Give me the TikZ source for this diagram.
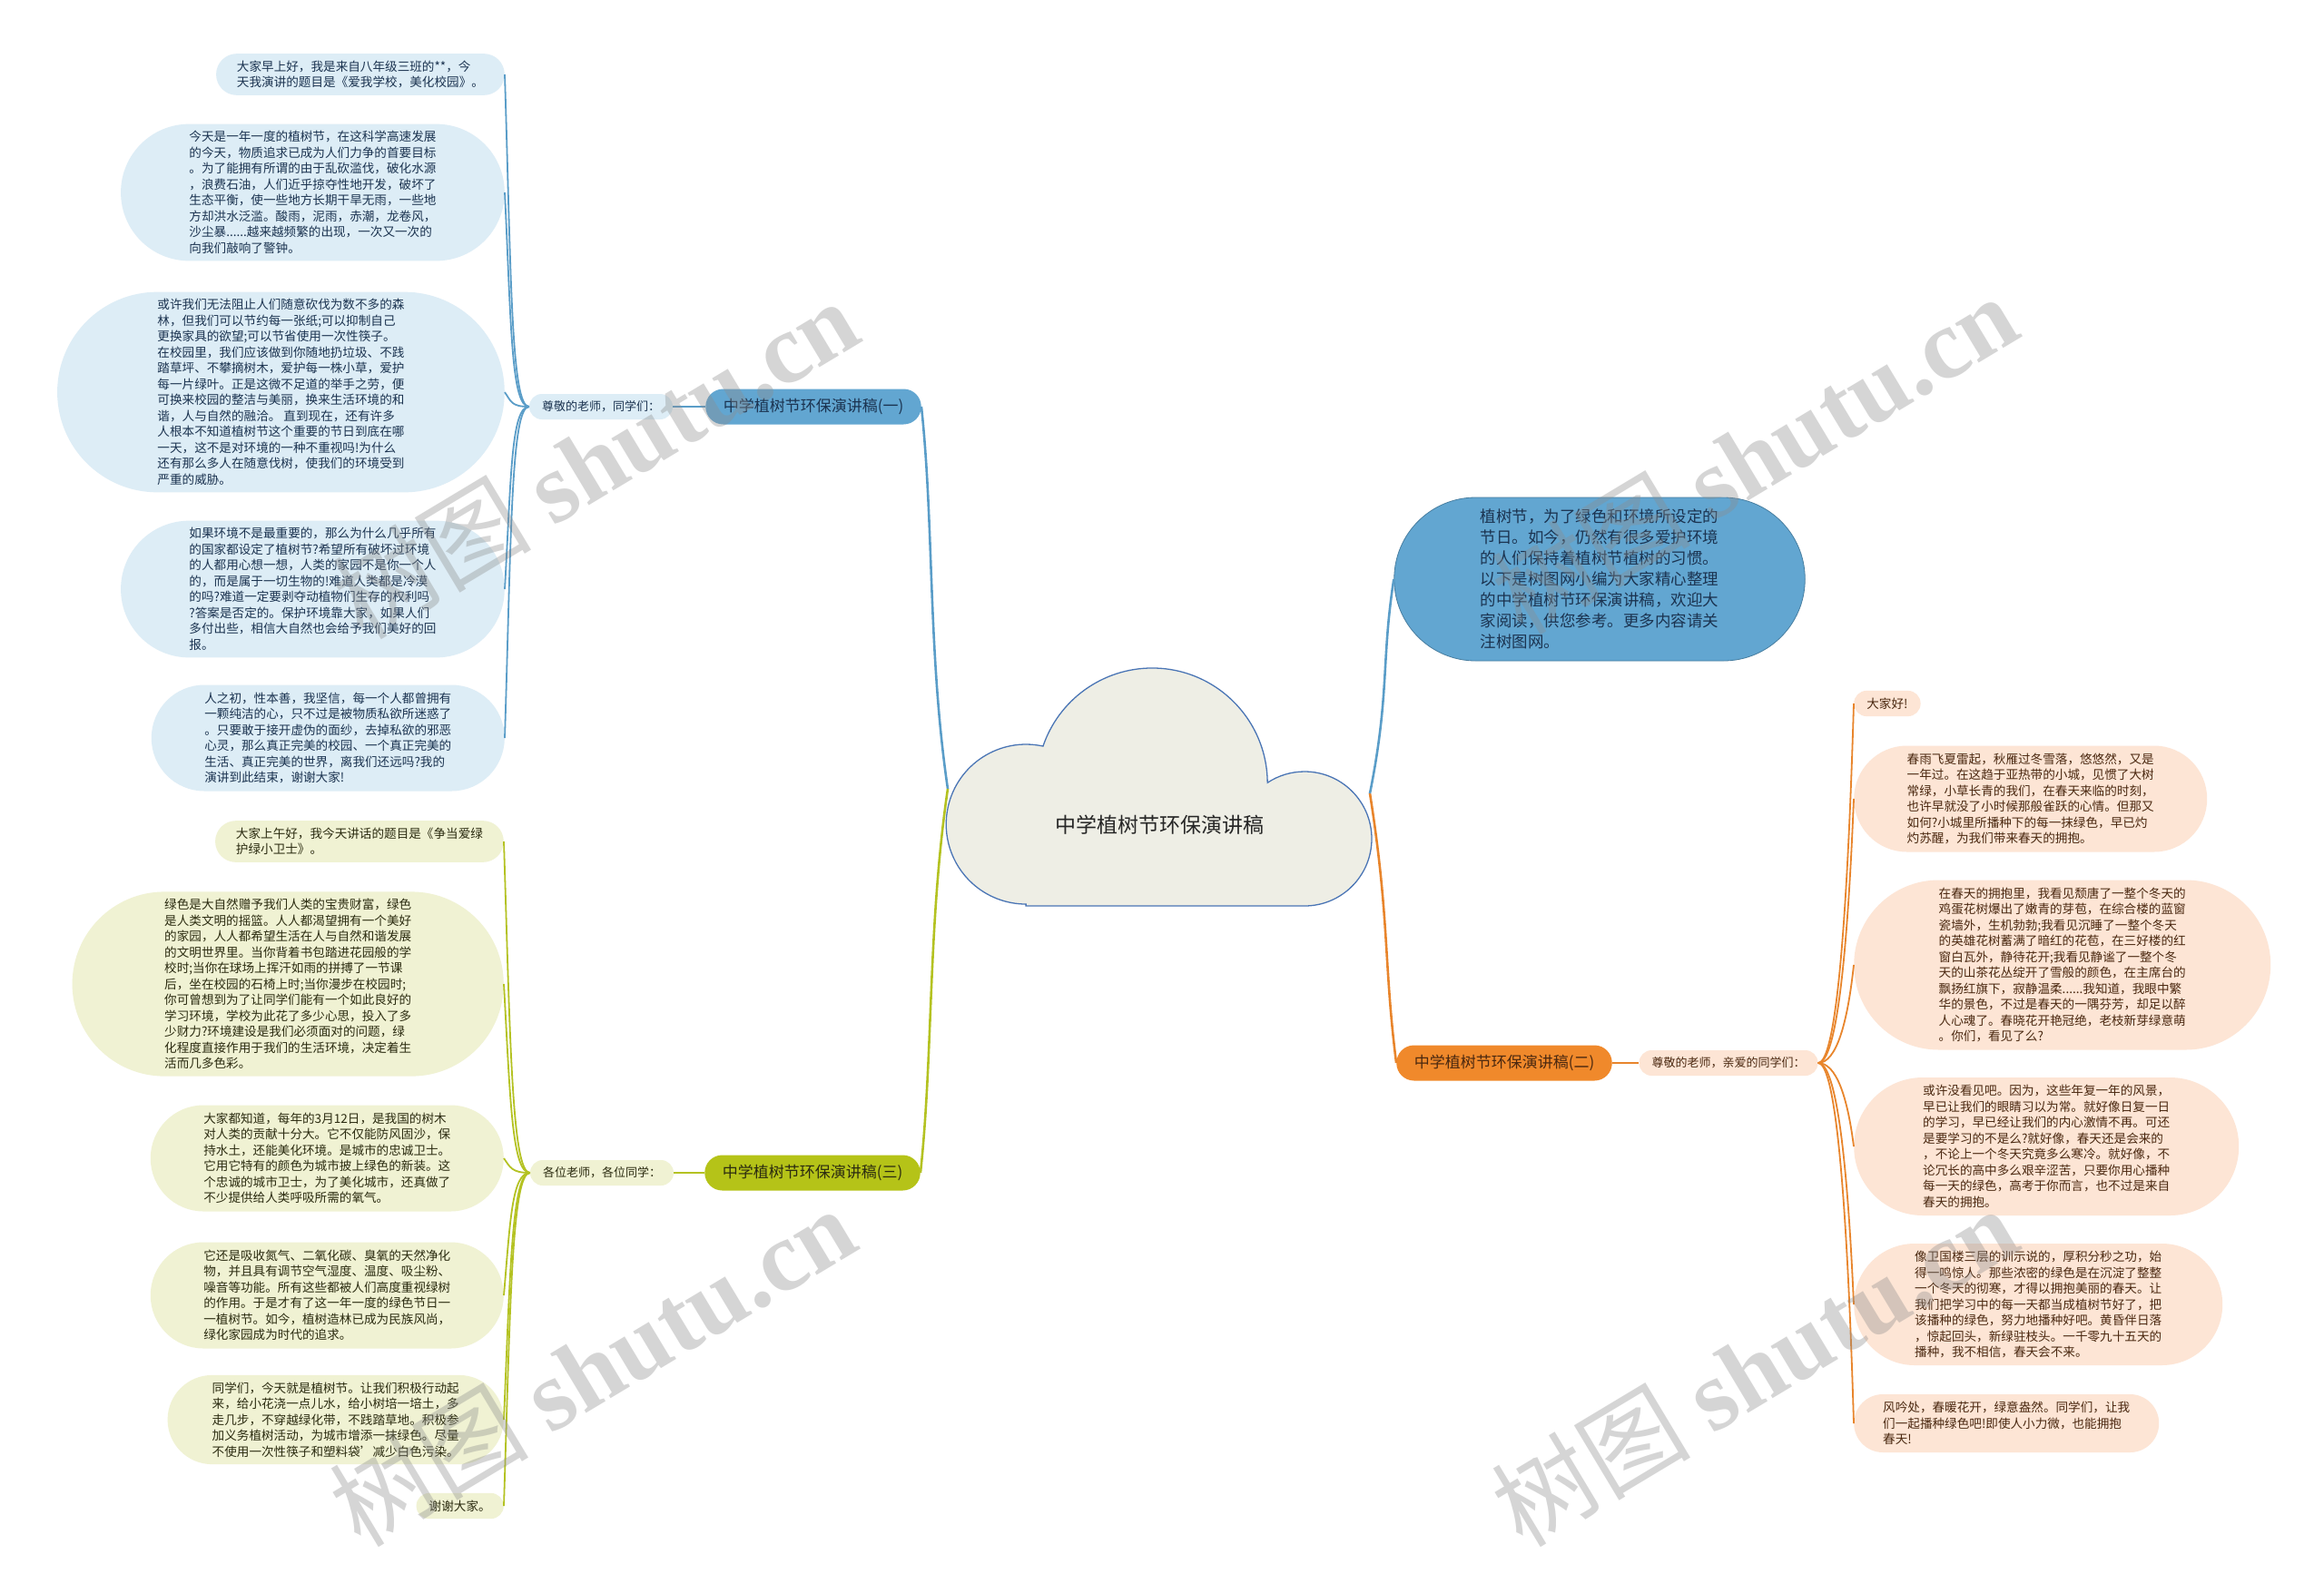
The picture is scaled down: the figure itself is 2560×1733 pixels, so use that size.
\documentclass[tikz,border=0pt]{standalone}
\usepackage{fontspec}
\setmainfont{Noto Sans CJK SC}
\newfontfamily\wmfont{Liberation Serif}
\newfontfamily\wmcjk{Noto Sans CJK SC}
\definecolor{bluelt}{HTML}{DDEDF6}
\definecolor{blueln}{HTML}{5A9DC8}
\definecolor{bluebr}{HTML}{62A6D1}
\definecolor{bluetx}{HTML}{1B3350}
\definecolor{greenlt}{HTML}{F0F2D3}
\definecolor{greenln}{HTML}{B4C222}
\definecolor{greenbr}{HTML}{B5C318}
\definecolor{greentx}{HTML}{2B2B10}
\definecolor{orangelt}{HTML}{FDE5D5}
\definecolor{orangeln}{HTML}{E8852C}
\definecolor{orangebr}{HTML}{F0892B}
\definecolor{orangetx}{HTML}{4A2810}
\definecolor{cloudfill}{HTML}{EEEEE5}
\definecolor{cloudln}{HTML}{4A75B5}
\begin{document}
\begin{tikzpicture}[x=1pt,y=-1pt,
  stad/.style={rectangle, minimum height=#1, inner ysep=0pt,
    inner xsep=#1*0.5, rounded corners=#1*0.5-0.1},
  bub/.style={stad=#1, align=left, font=\fontsize{13.6}{17.5}\selectfont},
  bbub/.style={bub=#1, fill=bluelt, text=bluetx},
  gbub/.style={bub=#1, fill=greenlt, text=greentx},
  obub/.style={bub=#1, fill=orangelt, text=orangetx},
  lab/.style={stad=28, font=\fontsize{13}{15}\selectfont},
  branch/.style={stad=39, font=\fontsize{17}{20}\selectfont},
  bsub/.style={draw=blueln, line width=1.8pt},
  gsub/.style={draw=greenln, line width=1.8pt},
  osub/.style={draw=orangeln, line width=1.8pt},
  wm/.style={text=black!45, opacity=0.36, rotate=31, inner sep=0pt}
]
\useasboundingbox (0,0) rectangle (2560,1733);
\fill[white] (0,0) rectangle (2560,1733);

% ---------- central cloud ----------
\draw[fill=cloudfill, draw=cloudln, line width=1.3pt]
  (1130,998) -- (1437,998)
  arc[start angle=90, end angle=-123.5, radius=74]
  arc[start angle=-0.3, end angle=-161.2, radius=127]
  arc[start angle=-77.7, end angle=-270, radius=88] -- cycle;
\node[font=\fontsize{23}{27}\selectfont, text=black!85] (root) at (1277,909) {中学植树节环保演讲稿};
\coordinate (rootL) at (1044,869);
\coordinate (rootR) at (1509,874);

% ---------- intro ----------
\node[stad=180, inner xsep=95, fill=bluebr, draw=blueln!80!black, line width=0.8pt,
  align=left, text=bluetx,
  font=\fontsize{17.5}{23}\selectfont] (intro) at (1762,638)
  {植树节，为了绿色和环境所设定的\\节日。如今，仍然有很多爱护环境\\的人们保持着植树节植树的习惯。\\以下是树图网小编为大家精心整理\\的中学植树节环保演讲稿，欢迎大\\家阅读，供您参考。更多内容请关\\注树图网。};

% ---------- branch nodes ----------
\node[branch, fill=bluebr, text=bluetx] (B1) at (896,448) {中学植树节环保演讲稿(一)};
\node[branch, fill=greenbr, text=greentx] (B3) at (895,1292) {中学植树节环保演讲稿(三)};
\node[branch, fill=orangebr, text=orangetx] (B2) at (1657,1171) {中学植树节环保演讲稿(二)};

\node[lab, fill=bluelt, text=bluetx] (L1) at (662,448) {尊敬的老师，同学们：};
\node[lab, fill=greenlt, text=greentx] (L3) at (663,1292) {各位老师，各位同学：};
\node[lab, fill=orangelt, text=orangetx] (L2) at (1904,1171) {尊敬的老师，亲爱的同学们：};

% ---------- main connectors ----------
\draw[draw=blueln, line width=2.6pt] (rootL) .. controls +(-22,-150) and +(14,130) .. (B1.east);
\draw[draw=greenln, line width=2.6pt] (rootL) .. controls +(-22,150) and +(14,-130) .. (B3.east);
\draw[draw=orangeln, line width=2.6pt] (rootR) .. controls +(22,140) and +(-14,-110) .. (B2.west);
\draw[draw=blueln, line width=2.6pt] (rootR) .. controls +(22,-110) and +(-14,90) .. (intro.west);

\draw[bsub] (B1.west) -- (L1.east);
\draw[gsub] (B3.west) -- (L3.east);
\draw[osub] (B2.east) -- (L2.west);

% ---------- blue bubbles ----------
\node[bbub=45.7, anchor=east] (b1) at (556,82)
 {大家早上好，我是来自八年级三班的**，今\\天我演讲的题目是《爱我学校，美化校园》。};
\node[bbub=150.7, anchor=east] (b2) at (556,212)
 {今天是一年一度的植树节，在这科学高速发展\\的今天，物质追求已成为人们力争的首要目标\\。为了能拥有所谓的由于乱砍滥伐，破化水源\\，浪费石油，人们近乎掠夺性地开发，破坏了\\生态平衡，使一些地方长期干旱无雨，一些地\\方却洪水泛滥。酸雨，泥雨，赤潮，龙卷风，\\沙尘暴......越来越频繁的出现，一次又一次的\\向我们敲响了警钟。};
\node[bbub=220.7, anchor=east] (b3) at (556,432)
 {或许我们无法阻止人们随意砍伐为数不多的森\\林，但我们可以节约每一张纸;可以抑制自己\\更换家具的欲望;可以节省使用一次性筷子。\\在校园里，我们应该做到你随地扔垃圾、不践\\踏草坪、不攀摘树木，爱护每一株小草，爱护\\每一片绿叶。正是这微不足道的举手之劳，便\\可换来校园的整洁与美丽，换来生活环境的和\\谐，人与自然的融洽。 直到现在，还有许多\\人根本不知道植树节这个重要的节日到底在哪\\一天，这不是对环境的一种不重视吗!为什么\\还有那么多人在随意伐树，使我们的环境受到\\严重的威胁。};
\node[bbub=150.7, anchor=east] (b4) at (556,649)
 {如果环境不是最重要的，那么为什么几乎所有\\的国家都设定了植树节?希望所有破坏过环境\\的人都用心想一想，人类的家园不是你一个人\\的，而是属于一切生物的!难道人类都是冷漠\\的吗?难道一定要剥夺动植物们生存的权利吗\\?答案是否定的。保护环境靠大家，如果人们\\多付出些，相信大自然也会给予我们美好的回\\报。};
\node[bbub=117, anchor=east] (b5) at (556,813)
 {人之初，性本善，我坚信，每一个人都曾拥有\\一颗纯洁的心，只不过是被物质私欲所迷惑了\\。只要敢于接开虚伪的面纱，去掉私欲的邪恶\\心灵，那么真正完美的校园、一个真正完美的\\生活、真正完美的世界，离我们还远吗?我的\\演讲到此结束，谢谢大家!};

% ---------- green bubbles ----------
\node[gbub=45.7, anchor=east] (g1) at (555,927)
 {大家上午好，我今天讲话的题目是《争当爱绿\\护绿小卫士》。};
\node[gbub=203.2, anchor=east] (g2) at (555,1084)
 {绿色是大自然赠予我们人类的宝贵财富，绿色\\是人类文明的摇篮。人人都渴望拥有一个美好\\的家园，人人都希望生活在人与自然和谐发展\\的文明世界里。当你背着书包踏进花园般的学\\校时;当你在球场上挥汗如雨的拼搏了一节课\\后，坐在校园的石椅上时;当你漫步在校园时;\\你可曾想到为了让同学们能有一个如此良好的\\学习环境，学校为此花了多少心思，投入了多\\少财力?环境建设是我们必须面对的问题，绿\\化程度直接作用于我们的生活环境，决定着生\\活而几多色彩。};
\node[gbub=117, anchor=east] (g3) at (555,1276)
 {大家都知道，每年的3月12日，是我国的树木\\对人类的贡献十分大。它不仅能防风固沙，保\\持水土，还能美化环境。是城市的忠诚卫士。\\它用它特有的颜色为城市披上绿色的新装。这\\个忠诚的城市卫士，为了美化城市，还真做了\\不少提供给人类呼吸所需的氧气。};
\node[gbub=117, anchor=east] (g4) at (555,1427)
 {它还是吸收氮气、二氧化碳、臭氧的天然净化\\物，并且具有调节空气湿度、温度、吸尘粉、\\噪音等功能。所有这些都被人们高度重视绿树\\的作用。于是才有了这一年一度的绿色节日一\\一植树节。如今，植树造林已成为民族风尚，\\绿化家园成为时代的追求。};
\node[gbub=98.2, anchor=east] (g5) at (555,1564)
 {同学们，今天就是植树节。让我们积极行动起\\来，给小花浇一点儿水，给小树培一培土，多\\走几步，不穿越绿化带，不践踏草地。积极参\\加义务植树活动，为城市增添一抹绿色。尽量\\不使用一次性筷子和塑料袋'减少白色污染。};
\node[gbub=28.2, anchor=east] (g6) at (555,1659) {谢谢大家。};

% ---------- orange bubbles ----------
\node[obub=28.2, anchor=west] (o1) at (2042,775) {大家好!};
\node[obub=117, anchor=west] (o2) at (2042,880)
 {春雨飞夏雷起，秋雁过冬雪落，悠悠然，又是\\一年过。在这趋于亚热带的小城，见惯了大树\\常绿，小草长青的我们，在春天来临的时刻，\\也许早就没了小时候那般雀跃的心情。但那又\\如何?小城里所播种下的每一抹绿色，早已灼\\灼苏醒，为我们带来春天的拥抱。};
\node[obub=187, anchor=west] (o3) at (2042,1063)
 {在春天的拥抱里，我看见颓唐了一整个冬天的\\鸡蛋花树爆出了嫩青的芽苞，在综合楼的蓝窗\\瓷墙外，生机勃勃;我看见沉睡了一整个冬天\\的英雄花树蓄满了暗红的花苞，在三好楼的红\\窗白瓦外，静待花开;我看见静谧了一整个冬\\天的山茶花丛绽开了雪般的颜色，在主席台的\\飘扬红旗下，寂静温柔......我知道，我眼中繁\\华的景色，不过是春天的一隅芬芳，却足以醉\\人心魂了。春晓花开艳冠绝，老枝新芽绿意萌\\。你们，看见了么?};
\node[obub=152, anchor=west] (o4) at (2042,1263)
 {或许没看见吧。因为，这些年复一年的风景，\\早已让我们的眼睛习以为常。就好像日复一日\\的学习，早已经让我们的内心激情不再。可还\\是要学习的不是么?就好像，春天还是会来的\\，不论上一个冬天究竟多么寒冷。就好像，不\\论冗长的高中多么艰辛涩苦，只要你用心播种\\每一天的绿色，高考于你而言，也不过是来自\\春天的拥抱。};
\node[obub=134, anchor=west] (o5) at (2042,1437)
 {像卫国楼三层的训示说的，厚积分秒之功，始\\得一鸣惊人。那些浓密的绿色是在沉淀了整整\\一个冬天的彻寒，才得以拥抱美丽的春天。让\\我们把学习中的每一天都当成植树节好了，把\\该播种的绿色，努力地播种好吧。黄昏伴日落\\，惊起回头，新绿驻枝头。一千零九十五天的\\播种，我不相信，春天会不来。};
\node[obub=64, anchor=west] (o6) at (2042,1568)
 {风吟处，春暖花开，绿意盎然。同学们，让我\\们一起播种绿色吧!即使人小力微，也能拥抱\\春天!};

% ---------- sub connectors ----------
\draw[bsub] (L1.west) .. controls +(-20,0) and +(7,220) .. (b1.east);
\draw[bsub] (L1.west) .. controls +(-20,0) and +(7,142) .. (b2.east);
\draw[bsub] (L1.west) .. controls +(-20,0) and +(7,10) .. (b3.east);
\draw[bsub] (L1.west) .. controls +(-20,0) and +(7,-121) .. (b4.east);
\draw[bsub] (L1.west) .. controls +(-20,0) and +(7,-219) .. (b5.east);

\draw[gsub] (L3.west) .. controls +(-20,0) and +(7,219) .. (g1.east);
\draw[gsub] (L3.west) .. controls +(-20,0) and +(7,125) .. (g2.east);
\draw[gsub] (L3.west) .. controls +(-20,0) and +(7,10) .. (g3.east);
\draw[gsub] (L3.west) .. controls +(-20,0) and +(7,-81) .. (g4.east);
\draw[gsub] (L3.west) .. controls +(-20,0) and +(7,-163) .. (g5.east);
\draw[gsub] (L3.west) .. controls +(-20,0) and +(7,-220) .. (g6.east);

\draw[osub] (L2.east) .. controls +(20,0) and +(-7,238) .. (o1.west);
\draw[osub] (L2.east) .. controls +(20,0) and +(-7,175) .. (o2.west);
\draw[osub] (L2.east) .. controls +(20,0) and +(-7,65) .. (o3.west);
\draw[osub] (L2.east) .. controls +(20,0) and +(-7,-55) .. (o4.west);
\draw[osub] (L2.east) .. controls +(20,0) and +(-7,-160) .. (o5.west);
\draw[osub] (L2.east) .. controls +(20,0) and +(-7,-238) .. (o6.west);

% ---------- watermarks ----------
\node[wm] (wm1) at (655,505) {\wmcjk\fontsize{110}{114}\selectfont 树图 \wmfont\bfseries shutu.cn};
\node[wm] (wm2) at (1932,500) {\wmcjk\fontsize{110}{114}\selectfont 树图 \wmfont\bfseries shutu.cn};
\node[wm] (wm3) at (652,1505) {\wmcjk\fontsize{110}{114}\selectfont 树图 \wmfont\bfseries shutu.cn};
\node[wm] (wm4) at (1932,1505) {\wmcjk\fontsize{110}{114}\selectfont 树图 \wmfont\bfseries shutu.cn};
\end{tikzpicture}
\end{document}
